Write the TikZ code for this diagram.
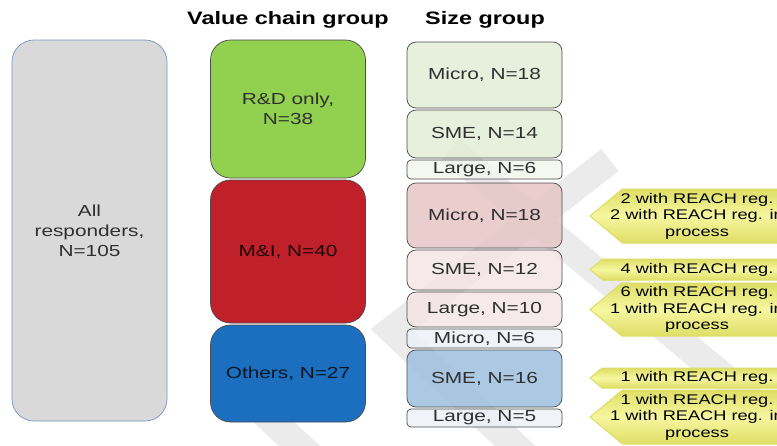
\documentclass[tikz,border=0pt]{standalone}
\usepackage{fontspec}
\setmainfont{Liberation Sans}[FakeStretch=1.3]

\definecolor{allfill}{HTML}{D9D9D9}
\definecolor{alledge}{HTML}{7393C4}
\definecolor{rdgreen}{HTML}{92D050}
\definecolor{mired}{HTML}{C0202A}
\definecolor{othblue}{HTML}{1C6FBF}
\definecolor{edgegray}{HTML}{4A4A4A}
\definecolor{greenpale}{HTML}{E2EDD6}
\definecolor{greenwhite}{HTML}{F3F6EF}
\definecolor{redpale}{HTML}{E6C6C6}
\definecolor{redwhite}{HTML}{F5E5E5}
\definecolor{bluepale}{HTML}{9EBFDE}
\definecolor{bluewhite}{HTML}{EDF2F8}
\definecolor{notefill}{HTML}{F6F6A0}
\definecolor{noteedge}{HTML}{DEDE66}
\definecolor{textgray}{HTML}{303030}

% callout pointing left: name, top y, bottom y, text
\newcommand\reachnote[4]{%
  \draw[note] (590,{(#2+#3)/2}) -- ({590+0.6*(#3-#2)},#2) -- (800,#2)
    -- (800,#3) -- ({590+0.6*(#3-#2)},#3) -- cycle;
  \node[notetext] (#1) at (697,{(#2+#3)/2}) {#4};}

\begin{document}
\begin{tikzpicture}[x=1pt, y=-1pt,
    every node/.style={font=\fontsize{16}{20}\selectfont, align=center, inner sep=0pt, text=textgray},
    header/.style={font=\fontsize{18}{22}\selectfont\bfseries, text=black},
    chainbox/.style={draw=edgegray, line width=0.7pt, rounded corners=20pt, minimum width=155pt},
    sizebox/.style={draw=edgegray, line width=0.7pt, rounded corners=9pt, minimum width=155pt, fill opacity=0.85, text opacity=1},
    thinbox/.style={sizebox, rounded corners=4pt},
    note/.style={draw=noteedge, line width=1pt, top color=noteedge, bottom color=noteedge, middle color=notefill},
    notetext/.style={font=\fontsize{14}{16.5}\selectfont, text=black},
    wmark/.style={draw=gray!16, line width=28pt, line join=miter}]
  \useasboundingbox (0,0) rectangle (777,445);
  \clip (0,0) rectangle (777,445);

  % watermark
  \draw[wmark] (610,160) -- (392,330) -- (530,460);
  \draw[wmark] (450,150) -- (800,440);
  \draw[wmark] (250,400) -- (320,465);

  % headers
  \node[header] (hchain) at (288,20) {Value chain group};
  \node[header] (hsize) at (485,20) {Size group};

  % all responders
  \node[draw=alledge, fill=allfill, line width=0.7pt, rounded corners=22pt,
        minimum width=155pt, minimum height=381pt] (all) at (89.5,230.5)
        {All\\responders,\\N=105};

  % value chain group
  \node[chainbox, fill=rdgreen, minimum height=138pt] (rd) at (288,109) {R\&D only,\\N=38};
  \node[chainbox, fill=mired, minimum height=143pt, text=black!85!mired] (mi) at (288,251.5) {M\&I, N=40};
  \node[chainbox, fill=othblue, minimum height=97pt, text=black!80!othblue] (oth) at (288,373.5) {Others, N=27};

  % size group
  \node[sizebox, fill=greenpale, minimum height=66pt] (rdmicro) at (484.5,75) {Micro, N=18};
  \node[sizebox, fill=greenpale, minimum height=48pt] (rdsme) at (484.5,134) {SME, N=14};
  \node[thinbox, fill=greenwhite, minimum height=19pt] (rdlarge) at (484.5,169.5) {Large, N=6};
  \node[sizebox, fill=redpale, minimum height=65pt] (mimicro) at (484.5,215.5) {Micro, N=18};
  \node[sizebox, fill=redwhite, minimum height=40pt] (misme) at (484.5,270) {SME, N=12};
  \node[sizebox, fill=redwhite, minimum height=35pt] (milarge) at (484.5,309.5) {Large, N=10};
  \node[thinbox, fill=bluewhite, minimum height=19pt] (othmicro) at (484.5,338.5) {Micro, N=6};
  \node[sizebox, fill=bluepale, minimum height=57pt] (othsme) at (484.5,378.5) {SME, N=16};
  \node[thinbox, fill=bluewhite, minimum height=18pt] (othlarge) at (484.5,418) {Large, N=5};

  % REACH registration notes
  \reachnote{nmimicro}{189}{243}{2 with REACH reg.\\2 with REACH reg. in\\process}
  \reachnote{nmisme}{259}{280}{4 with REACH reg.}
  \reachnote{nmilarge}{283}{336}{6 with REACH reg.\\1 with REACH reg. in\\process}
  \reachnote{nothsme}{368}{388}{1 with REACH reg.}
  \reachnote{nothlarge}{390}{444}{1 with REACH reg.\\1 with REACH reg. in\\process}
\end{tikzpicture}
\end{document}
